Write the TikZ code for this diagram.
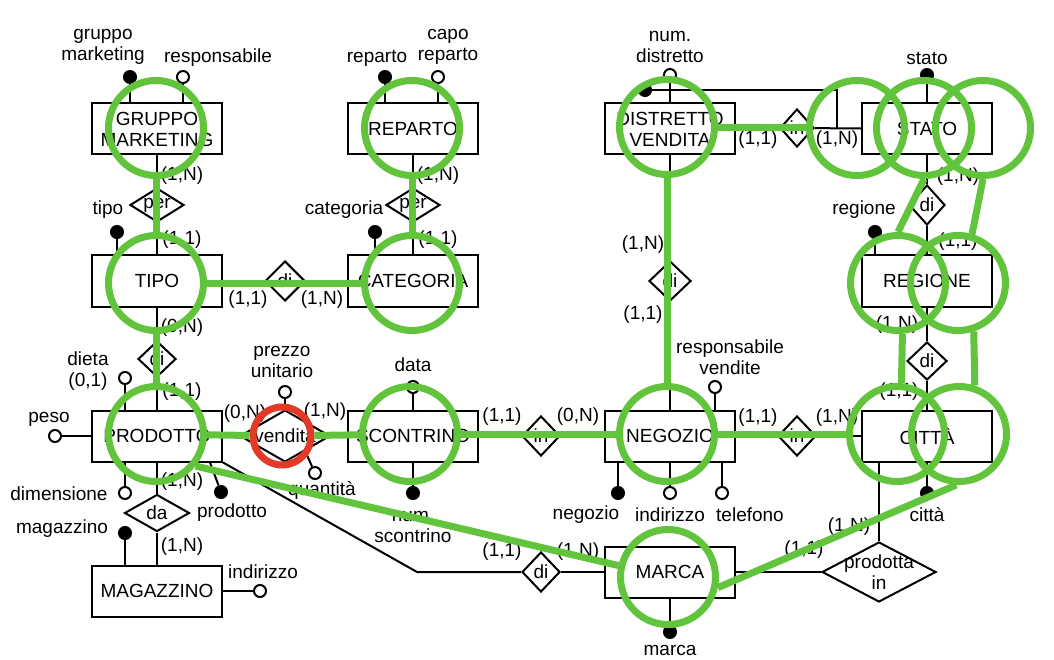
\documentclass[tikz,border=0pt]{standalone}
\usepackage{fontspec}
\setmainfont{Liberation Sans}
\usepackage{tikz}
\usetikzlibrary{shapes.geometric, positioning, calc}
\definecolor{evid_verde}{RGB}{98, 196, 61}
\definecolor{evid_rosso}{RGB}{226, 58, 38}

\begin{document}
\begin{tikzpicture}[
        x=1pt, y=-1pt,
        font=\fontsize{19}{21}\selectfont,
        every node/.style={inner sep=0pt},
        entita/.style={draw, line width=2pt, minimum width=130pt, minimum height=51pt, align=center},
        relaz/.style={draw, diamond, line width=2pt, minimum width=40pt, minimum height=40pt, label={[lab]center:#1}},
        attr/.style={circle, draw, line width=2pt, fill=white, minimum size=12pt},
        attrid/.style={attr, fill=black},
        lab/.style={align=center},
        linea/.style={line width=2pt},
        evid/.style={circle, draw=evid_verde, line width=7pt, minimum size=95pt},
        arco/.style={draw=evid_verde, line width=7pt}
    ]
        \useasboundingbox (0,0) rectangle (1054,660);

        % -------- Entita --------
        \node[entita] (gruppo) at (157,129) {GRUPPO\\MARKETING};
        \node[entita] (tipo) at (157,281) {TIPO};
        \node[entita] (reparto) at (413,129) {REPARTO};
        \node[entita] (categoria) at (413,281) {CATEGORIA};
        \node[entita] (distretto) at (670,129) {DISTRETTO\\VENDITA};
        \node[entita] (stato) at (927,129) {STATO};
        \node[entita] (regione) at (927,281) {REGIONE};
        \node[entita] (prodotto) at (157,436) {PRODOTTO};
        \node[entita] (scontrino) at (413,436) {SCONTRINO};
        \node[entita] (negozio) at (670,436) {NEGOZIO};
        \node[entita] (citta) at (927,436) {CITTÀ};
        \node[entita] (magazzino) at (157,591) {MAGAZZINO};
        \node[entita] (marca) at (670,572) {MARCA};

        % -------- Relazioni --------
        \node[relaz=per, minimum width=54, minimum height=34] (perTipo) at (157,205) {};
        \node[relaz=per, minimum width=54, minimum height=34] (perCat) at (413,205) {};
        \node[relaz=di] (diTipoCat) at (285,281) {};
        \node[relaz=di, minimum width=38, minimum height=36] (diProd) at (157,359) {};
        \node[relaz=da, minimum width=65, minimum height=37] (da) at (157,513) {};
        \node[relaz=vendita, minimum width=90, minimum height=52] (vendita) at (285,436) {};
        \node[relaz=in, minimum width=38] (inScontr) at (541,436) {};
        \node[relaz=in, minimum width=38] (inNeg) at (797,436) {};
        \node[relaz=di, minimum width=38] (diMarca) at (541,572) {};
        \node[relaz=di, minimum width=42] (diDistr) at (670,281) {};
        \node[relaz=in, minimum width=34, minimum height=38] (inDistr) at (797,128) {};
        \node[relaz=di, minimum width=36] (diStato) at (927,205) {};
        \node[relaz=di, minimum height=38] (diReg) at (927,361) {};
        \node[relaz={prodotta\\in}, minimum width=114, minimum height=60] (prodIn) at (879,572) {};

        % -------- Collegamenti --------
        \draw[linea] (gruppo) -- (perTipo) -- (tipo);
        \draw[linea] (reparto) -- (perCat) -- (categoria);
        \draw[linea] (tipo) -- (diTipoCat) -- (categoria);
        \draw[linea] (tipo) -- (diProd) -- (prodotto);
        \draw[linea] (prodotto) -- (da) -- (magazzino);
        \draw[linea] (prodotto) -- (vendita) -- (scontrino);
        \draw[linea] (scontrino) -- (inScontr) -- (negozio);
        \draw[linea] (negozio) -- (inNeg) -- (citta);
        \draw[linea] (distretto) -- (diDistr) -- (negozio);
        \draw[linea] (distretto) -- (inDistr) -- (stato);
        \draw[linea] (stato) -- (diStato) -- (regione);
        \draw[linea] (regione) -- (diReg) -- (citta);
        \draw[linea] (marca) -- (prodIn);
        \draw[linea] (citta.south -| prodIn.north) -- (prodIn.north);
        \coordinate (gomito) at (417,572);
        \draw[linea] (prodotto.south east) -- (gomito) -- (diMarca);
        \draw[linea] (diMarca) -- (marca);

        % identificatore esterno di DISTRETTO VENDITA
        \coordinate (angolo) at (837,90);
        \node[attrid] (idDistr) at (645,90) {};
        \draw[linea] (idDistr) -- (angolo) -- (angolo |- inDistr);

        % -------- Attributi --------
        \node[attrid] (aGruppo) at (130,77) {};
        \node[attr] (aResp) at (183,77) {};
        \node[attrid] (aRep) at (385,77) {};
        \node[attr] (aCapo) at (438,77) {};
        \node[attr] (aNumDistr) at (670,75) {};
        \node[attrid] (aStato) at (927,75) {};
        \node[attrid] (aTipo) at (117,232) {};
        \node[attrid] (aCat) at (375,232) {};
        \node[attrid] (aReg) at (875,232) {};
        \foreach \n in {aGruppo, aResp}
            \draw[linea] (\n) -- (\n |- gruppo.north);
        \foreach \n in {aRep, aCapo}
            \draw[linea] (\n) -- (\n |- reparto.north);
        \draw[linea] (aNumDistr) -- (aNumDistr |- distretto.north);
        \draw[linea] (aStato) -- (aStato |- stato.north);
        \draw[linea] (aTipo) -- (aTipo |- tipo.north);
        \draw[linea] (aCat) -- (aCat |- categoria.north);
        \draw[linea] (aReg) -- (aReg |- regione.north);

        % PRODOTTO
        \node[attr] (aDieta) at (125,378) {};
        \node[attr] (aPeso) at (55,436) {};
        \node[attr] (aDim) at (125,493) {};
        \node[attrid] (aProd) at (221,492) {};
        \draw[linea] (aDieta) -- (aDieta |- prodotto.north);
        \draw[linea] (aPeso) -- (prodotto.west);
        \draw[linea] (aDim) -- (aDim |- prodotto.south);
        \draw[linea] (aProd) -- ([xshift=-13pt]prodotto.south east);

        % vendita
        \node[attr] (aPrezzo) at (285,392) {};
        \node[attr] (aQuant) at (315,473) {};
        \draw[linea] (aPrezzo) -- (vendita.north);
        \draw[linea] (aQuant) -- (vendita.-37);

        % SCONTRINO, NEGOZIO, CITTA
        \node[attr] (aData) at (413,387) {};
        \node[attrid] (aNumScontr) at (413,493) {};
        \node[attr] (aResVend) at (715,387) {};
        \node[attrid] (aNeg) at (618,493) {};
        \node[attr] (aIndNeg) at (670,493) {};
        \node[attr] (aTel) at (722,493) {};
        \node[attrid] (aCitta) at (927,493) {};
        \draw[linea] (aData) -- (scontrino.north);
        \draw[linea] (aNumScontr) -- (scontrino.south);
        \draw[linea] (aResVend) -- (aResVend |- negozio.north);
        \foreach \n in {aNeg, aIndNeg, aTel}
            \draw[linea] (\n) -- (\n |- negozio.south);
        \draw[linea] (aCitta) -- (citta.south);

        % MAGAZZINO, MARCA
        \node[attrid] (aMag) at (125,533) {};
        \node[attr] (aIndMag) at (260,591) {};
        \node[attrid] (aMarca) at (670,632) {};
        \draw[linea] (aMag) -- (aMag |- magazzino.north);
        \draw[linea] (aIndMag) -- (magazzino.east);
        \draw[linea] (aMarca) -- (marca.south);

        % -------- Etichette attributi --------
        \node[lab] (lGruppo) at (103,47) {gruppo\\marketing};
        \node[lab] (lResp) at (218,58) {responsabile};
        \node[lab] (lRep) at (377,58) {reparto};
        \node[lab] (lCapo) at (448,47) {capo\\reparto};
        \node[lab] (lNumDistr) at (670,47) {num.\\distretto};
        \node[lab] (lStato) at (927,58) {stato};
        \node[lab] (lTipo) at (108,210) {tipo};
        \node[lab] (lCat) at (344,210) {categoria};
        \node[lab] (lReg) at (864,210) {regione};
        \node[lab] (lDieta) at (88,371) {dieta\\(0,1)};
        \node[lab] (lPeso) at (49,419) {peso};
        \node[lab] (lPrezzo) at (282,362) {prezzo\\unitario};
        \node[lab] (lData) at (413,365) {data};
        \node[lab] (lResVend) at (730,357) {responsabile\\vendite};
        \node[lab] (lDim) at (59,494) {dimensione};
        \node[lab] (lProd) at (232,513) {prodotto};
        \node[lab] (lQuant) at (322,490) {quantità};
        \node[lab] (lNumScontr) at (413,527) {num.\\scontrino};
        \node[lab] (lNeg) at (586,515) {negozio};
        \node[lab] (lIndNeg) at (670,515) {indirizzo};
        \node[lab] (lTel) at (750,515) {telefono};
        \node[lab] (lCitta) at (927,515) {città};
        \node[lab] (lMag) at (62,529) {magazzino};
        \node[lab] (lIndMag) at (263,572) {indirizzo};
        \node[lab] (lMarca) at (670,650) {marca};

        % -------- Cardinalita --------
        \foreach \x/\y/\c [count=\i] in {
            182/176/{(1,N)}, 182/240/{(1,1)}, 438/176/{(1,N)}, 438/240/{(1,1)},
            248/300/{(1,1)}, 322/300/{(1,N)}, 182/328/{(0,N)}, 182/392/{(1,1)},
            245/414/{(0,N)}, 325/412/{(1,N)}, 502/417/{(1,1)}, 578/417/{(0,N)},
            758/418/{(1,1)}, 837/418/{(1,N)}, 643/245/{(1,N)}, 643/315/{(1,1)},
            758/140/{(1,1)}, 837/140/{(1,N)}, 958/177/{(1,N)}, 958/242/{(1,1)},
            897/325/{(1,N)}, 899/392/{(1,1)}, 182/482/{(1,N)}, 182/547/{(1,N)},
            502/552/{(1,1)}, 578/552/{(1,N)}, 804/550/{(1,1)}, 849/527/{(1,N)}}
            \node (card\i) at (\x,\y) {\c};

        % -------- Evidenziazione --------
        \node[evid] (cGruppo) at (156,128) {};
        \node[evid] (cTipo) at (156,283) {};
        \node[evid] (cReparto) at (412,128) {};
        \node[evid] (cCategoria) at (412,283) {};
        \node[evid] (cDistretto) at (667,127) {};
        \node[evid] (cStatoA) at (857,128) {};
        \node[evid] (cStatoB) at (924,128) {};
        \node[evid] (cStatoC) at (983,128) {};
        \node[evid] (cRegioneA) at (898,283) {};
        \node[evid] (cRegioneB) at (958,283) {};
        \node[evid] (cProdotto) at (156,434) {};
        \node[evid, draw=evid_rosso, minimum size=58pt] (cVendita) at (282,436) {};
        \node[evid] (cScontrino) at (410,434) {};
        \node[evid] (cNegozio) at (667,434) {};
        \node[evid] (cCittaA) at (897,434) {};
        \node[evid] (cCittaB) at (959,434) {};
        \node[evid] (cMarca) at (668,577) {};

        \draw[arco] (cGruppo) -- (cTipo);
        \draw[arco] (cTipo) -- (cCategoria);
        \draw[arco] (cReparto) -- (cCategoria);
        \draw[arco] (cTipo) -- (cProdotto);
        \draw[arco] (cProdotto) -- (cVendita);
        \draw[arco] (cVendita) -- (cScontrino);
        \draw[arco] (cScontrino) -- (cNegozio);
        \draw[arco] (cNegozio) -- (cCittaA);
        \draw[arco] (cDistretto) -- (cNegozio);
        \draw[arco] (cDistretto) -- (cStatoA);
        \draw[arco] (cStatoB.south) -- (cRegioneA.north);
        \draw[arco] (cStatoC.south) -- (cRegioneB.74);
        \draw[arco] (cRegioneA.-85) -- (cCittaA.85);
        \draw[arco] (cRegioneB.-72) -- (cCittaB.72);
        \draw[arco] (cProdotto.-39) -- (cMarca.167);
        \draw[arco] (cMarca.-12) -- (cCittaB.-93);

\end{tikzpicture}
\end{document}
